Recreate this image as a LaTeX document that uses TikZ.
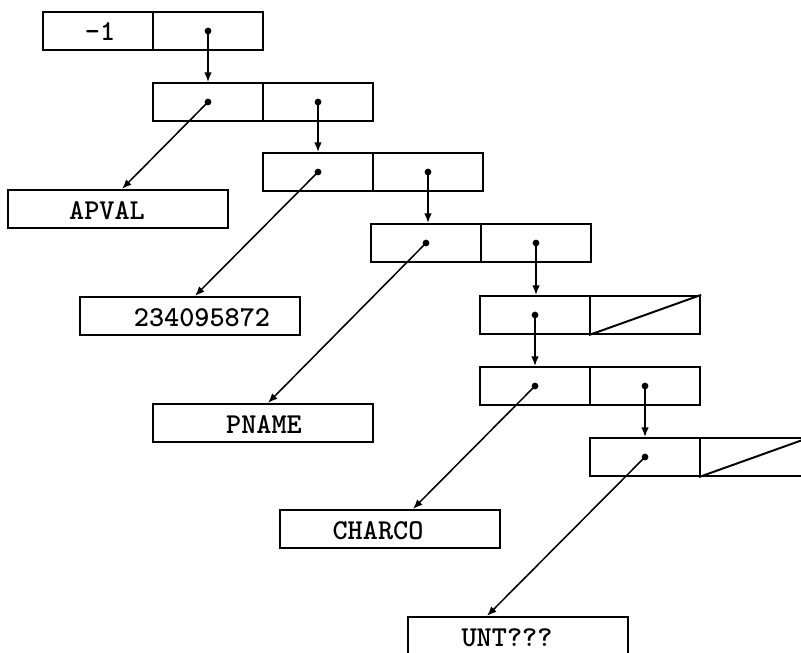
\documentclass[tikz,border=0pt]{standalone}
\usepackage{fontspec}
\usetikzlibrary{arrows.meta,calc}

\begin{document}
\begin{tikzpicture}[x=0.025cm,y=-0.025cm,
  cell/.style={draw,line width=1.5pt,minimum width=2.75cm,minimum height=0.95cm,inner sep=0pt},
  atombox/.style={cell,minimum width=5.5cm},
  txt/.style={font=\fontsize{20.5}{24}\selectfont\ttfamily\bfseries},
  ptr/.style={line width=1.1pt,-{Latex[length=0.24cm,width=0.19cm]}},
  nil/.style={line width=1.4pt}]
\useasboundingbox (0,0) rectangle (801,652);
\clip (0,0) rectangle (801,652);
\def\cons#1#2#3{\node[cell] (#1a) at (#2,#3) {}; \node[cell] (#1d) at (#2+110,#3) {};}
\def\atom#1#2#3#4#5{\node[atombox] (#1) at (#2,#3) {}; \node[txt] at (#2+#4,#3+2) {#5};}
\cons{c1}{98}{31}
\cons{c2}{208}{102}
\cons{c3}{318}{172}
\cons{c4}{426}{243}
\cons{c5}{535}{315}
\cons{c6}{535}{386}
\cons{c7}{645}{457}
\node[txt] at ($(c1a)+(2,1)$) {-1};
\atom{apval}{118}{209}{-11}{APVAL}
\atom{num}{190}{316}{12}{234095872}
\atom{pname}{263}{423}{1}{PNAME}
\atom{charco}{390}{529}{-12}{CHARCO}
\atom{unt}{518}{636}{-11}{UNT???}
\draw[ptr] (c1d.center) -- (c2a.north);
\draw[ptr] (c2a.center) -- ($(apval.north)+(4,0)$);
\draw[ptr] (c2d.center) -- (c3a.north);
\draw[ptr] (c3a.center) -- ($(num.north)+(5,0)$);
\draw[ptr] (c3d.center) -- (c3d.center |- c4a.north);
\draw[ptr] (c4a.center) -- ($(pname.north)+(5,0)$);
\draw[ptr] (c4d.center) -- (c4d.center |- c5a.north);
\draw[ptr] (c5a.center) -- (c6a.north);
\draw[ptr] (c6a.center) -- ($(charco.north)+(23,0)$);
\draw[ptr] (c6d.center) -- (c7a.north);
\draw[ptr] (c7a.center) -- ($(unt.north)+(-31,0)$);
\foreach \n in {c1d,c2a,c2d,c3a,c3d,c4a,c4d,c5a,c6a,c6d,c7a} \fill (\n) circle (2.4pt);
\draw[nil] (c5d.south west) -- (c5d.north east);
\draw[nil] (c7d.south west) -- (c7d.north east);
\end{tikzpicture}
\end{document}
